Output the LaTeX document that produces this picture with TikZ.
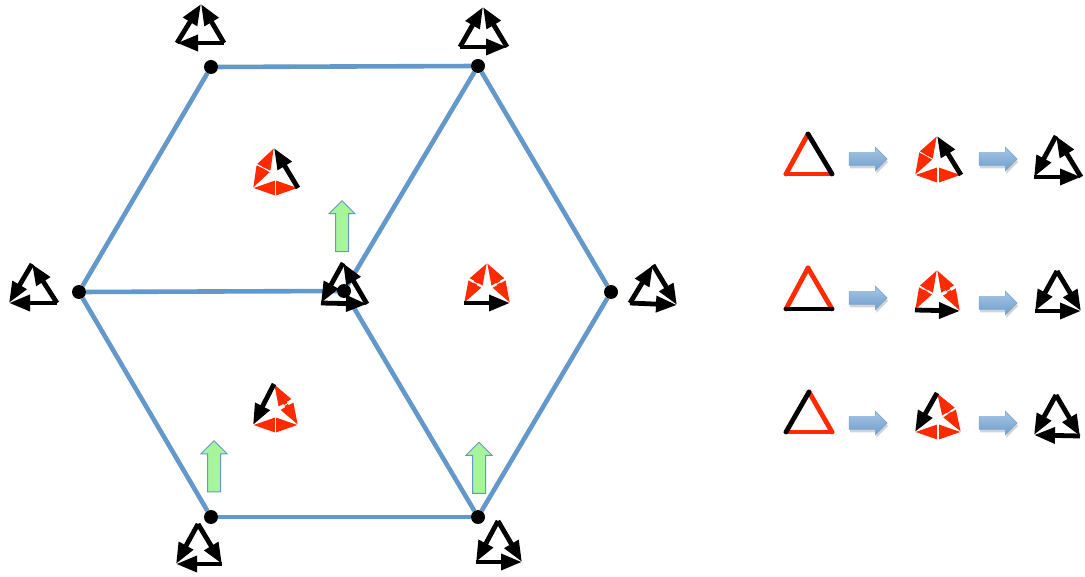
\documentclass[tikz,border=0pt]{standalone}
\usetikzlibrary{arrows.meta,calc,shapes.arrows,shadows,backgrounds}

\definecolor{hexblue}{HTML}{6398CB}
\definecolor{flagred}{HTML}{FF2A00}
\definecolor{upgreen}{HTML}{A6F59B}

\tikzset{
  hexedge/.style={hexblue,line width=4.6pt},
  dot/.style={circle,fill=black,minimum size=14pt,inner sep=0pt},
  blackarr/.style={black,line width=4.8pt,-{Triangle[length=21pt,width=15.5pt]}},
  redarr/.style={flagred,line width=4pt,shorten <=.6pt,-{Triangle[length=21.8pt,width=13.5pt]}},
  blackside/.style={black,line width=4.8pt,line cap=round},
  redside/.style={flagred,line width=4.8pt,line cap=round},
  uparr/.style={shape=single arrow,rotate=90,draw=hexblue,fill=upgreen,line width=1pt,
    inner xsep=0pt,inner ysep=6pt,minimum height=51pt,minimum width=26pt,single arrow head extend=6.5pt},
  steparr/.style={shape=single arrow,draw=hexblue!85,top color=hexblue!55,bottom color=hexblue!95,
    line width=.6pt,inner xsep=0pt,inner ysep=6pt,minimum height=38pt,minimum width=23pt,
    single arrow head extend=5.5pt,
    drop shadow={shadow xshift=1pt,shadow yshift=-3pt,opacity=.35}}
}

% corners a,l,r / black arrows / two-headed red sides
\newcommand{\flagtri}[6]{
  \coordinate (#1a) at (#2);
  \coordinate (#1l) at (#3);
  \coordinate (#1r) at (#4);
  \foreach \p/\q in {#6} {
    \draw[redarr] ($(#1\p)!.5!(#1\q)$) -- (#1\p);
    \draw[redarr] ($(#1\p)!.5!(#1\q)$) -- (#1\q);
  }
  \foreach \p/\q in {#5}
    \draw[blackarr] (#1\p) -- (#1\q);
}
% same corners, plain sides
\newcommand{\plaintri}[6]{
  \coordinate (#1a) at (#2);
  \coordinate (#1l) at (#3);
  \coordinate (#1r) at (#4);
  \foreach \p/\q in {#6}
    \draw[redside] (#1\p) -- (#1\q);
  \foreach \p/\q in {#5}
    \draw[blackside] (#1\p) -- (#1\q);
}

\begin{document}
\begin{tikzpicture}[x=1pt,y=-1pt]
  \useasboundingbox (0,0) rectangle (1085,577);

  % hexagon
  \node[dot] (va) at (211,67) {};
  \node[dot] (vb) at (478,66) {};
  \node[dot] (vc) at (611,292) {};
  \node[dot] (vd) at (478,517) {};
  \node[dot] (ve) at (211,517) {};
  \node[dot] (vf) at (79,292) {};
  \node[dot] (vo) at (344,291) {};

  \begin{scope}[on background layer]
    \draw[hexedge] (va) -- (vb);
    \draw[hexedge] (vb) -- (vc);
    \draw[hexedge] (vc) -- (vd);
    \draw[hexedge] (vd) -- (ve);
    \draw[hexedge] (ve) -- (vf);
    \draw[hexedge] (vf) -- (va);
    \draw[hexedge] (vf) -- (vo);
    \draw[hexedge] (vb) -- (vo);
    \draw[hexedge] (vd) -- (vo);
    \flagtri{to}{343,263}{321,303}{367,304}{a/l,r/a,l/r}{}
  \end{scope}

  % flags at the vertices
  \flagtri{ta}{201,4}{177,43}{224,43}{l/a,r/a,r/l}{}
  \flagtri{tb}{483,7}{460,47}{507,47}{l/a,r/a,l/r}{}
  \flagtri{tc}{653,265}{630,303}{677,305}{l/a,a/r,l/r}{}
  \flagtri{td}{498,521}{476,562}{522,562}{a/l,a/r,l/r}{}
  \flagtri{te}{198,524}{176,564}{222,564}{a/l,a/r,r/l}{}
  \flagtri{tf}{32,264}{9,303}{57,303}{a/l,r/a,r/l}{}

  % flags in the faces
  \flagtri{fa}{274,148}{253,188}{298,188}{r/a}{a/l,l/r}
  \flagtri{fb}{487,263}{464,303}{510,303}{l/r}{a/l,a/r}
  \flagtri{fc}{274,384}{253,425}{298,425}{a/l}{a/r,l/r}

  \node[uparr] (ua) at (342,229.5) {};
  \node[uparr] (ub) at (214,469.5) {};
  \node[uparr] (uc) at (479,471) {};

  % first row
  \plaintri{pa}{808,134}{786,174}{832,174}{a/r}{a/l,l/r}
  \node[steparr] (sa1) at (865,159) {};
  \flagtri{qa}{937,136}{915,175}{961,175}{r/a}{a/l,l/r}
  \node[steparr] (sa2) at (995,159) {};
  \flagtri{ra}{1056,136}{1034,177}{1081,177}{a/l,r/a,l/r}{}

  % second row
  \plaintri{pb}{808,268}{786,309}{832,309}{l/r}{a/l,a/r}
  \node[steparr] (sb1) at (865,298) {};
  \flagtri{qb}{937,270}{915,310}{960,311}{l/r}{a/l,a/r}
  \node[steparr] (sb2) at (995,303) {};
  \flagtri{rb}{1057,271}{1035,311}{1081,311}{a/l,a/r,l/r}{}

  % third row
  \plaintri{pc}{809,392}{786,432}{832,432}{a/l}{a/r,l/r}
  \node[steparr] (sc1) at (865,423) {};
  \flagtri{qc}{937,393}{915,432}{961,432}{a/l}{a/r,l/r}
  \node[steparr] (sc2) at (995,423) {};
  \flagtri{rc}{1056,395}{1034,435}{1080,436}{a/l,a/r,r/l}{}
\end{tikzpicture}
\end{document}
